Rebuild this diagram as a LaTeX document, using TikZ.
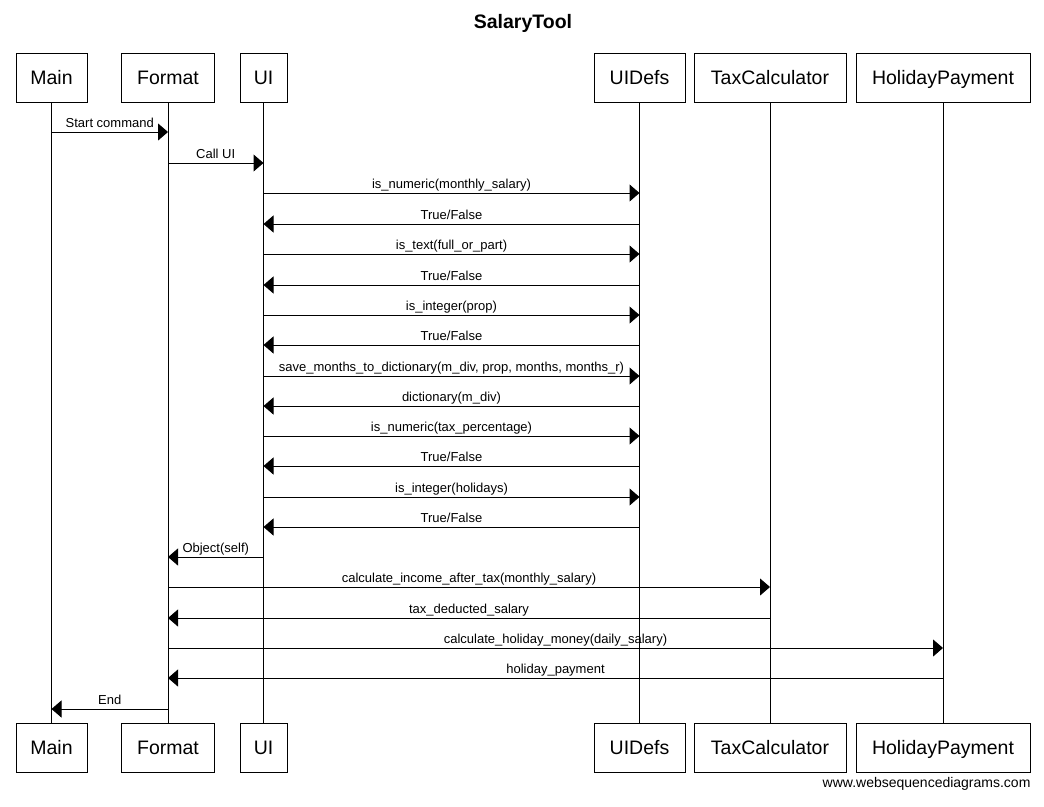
\documentclass[tikz,border=0pt]{standalone}
\usepackage{fontspec}
\setmainfont{Liberation Sans}
\usepackage{tikz}
\usetikzlibrary{arrows.meta,positioning}
\tikzstyle{actor} = [draw, line width=1pt, minimum height=49pt, inner xsep=0pt, inner ysep=0pt, text height=14pt, text depth=0pt, font=\fontsize{19.5}{20}\selectfont]
\tikzstyle{life} = [draw, line width=1pt]
\tikzstyle{msg} = [draw, line width=1pt, -{Triangle[length=10pt,width=17pt]}]
\tikzstyle{lbl} = [anchor=base, yshift=4.5pt, inner sep=0pt, font=\fontsize{13}{13}\selectfont]

\begin{document}
\begin{tikzpicture}[x=1pt, y=-1pt]
      \useasboundingbox (0,0) rectangle (1044,806);

      \node (title) at (523, 28) [anchor=base, font=\fontsize{19.5}{20}\selectfont\bfseries] {SalaryTool};

      % participants, top row
      \node[actor, minimum width=71pt] (main) at (51.5, 77.7) {Main};
      \node[actor, minimum width=93pt] (format) at (168, 77.7) {Format};
      \node[actor, minimum width=47pt] (ui) at (263.5, 77.7) {UI};
      \node[actor, minimum width=91pt] (uidefs) at (639.5, 77.7) {UIDefs};
      \node[actor, minimum width=152pt] (tax) at (770, 77.7) {TaxCalculator};
      \node[actor, minimum width=174pt] (holiday) at (943, 77.7) {HolidayPayment};

      % participants, bottom row
      \node[actor, minimum width=71pt, below=620pt of main] (mainB) {Main};
      \node[actor, minimum width=93pt, below=620pt of format] (formatB) {Format};
      \node[actor, minimum width=47pt, below=620pt of ui] (uiB) {UI};
      \node[actor, minimum width=91pt, below=620pt of uidefs] (uidefsB) {UIDefs};
      \node[actor, minimum width=152pt, below=620pt of tax] (taxB) {TaxCalculator};
      \node[actor, minimum width=174pt, below=620pt of holiday] (holidayB) {HolidayPayment};

      % lifelines
      \draw[life] (main) -- (mainB);
      \draw[life] (format) -- (formatB);
      \draw[life] (ui) -- (uiB);
      \draw[life] (uidefs) -- (uidefsB);
      \draw[life] (tax) -- (taxB);
      \draw[life] (holiday) -- (holidayB);

      % messages
      \draw[msg] (main |- 0,132) -- node[lbl] {Start command} (format |- 0,132);
      \draw[msg] (format |- 0,163) -- node[lbl] {Call UI} (ui |- 0,163);
      \draw[msg] (ui |- 0,193) -- node[lbl] {is\_numeric(monthly\_salary)} (uidefs |- 0,193);
      \draw[msg] (uidefs |- 0,224) -- node[lbl] {True/False} (ui |- 0,224);
      \draw[msg] (ui |- 0,254) -- node[lbl] {is\_text(full\_or\_part)} (uidefs |- 0,254);
      \draw[msg] (uidefs |- 0,285) -- node[lbl] {True/False} (ui |- 0,285);
      \draw[msg] (ui |- 0,315) -- node[lbl] {is\_integer(prop)} (uidefs |- 0,315);
      \draw[msg] (uidefs |- 0,345) -- node[lbl] {True/False} (ui |- 0,345);
      \draw[msg] (ui |- 0,376) -- node[lbl] {save\_months\_to\_dictionary(m\_div, prop, months, months\_r)} (uidefs |- 0,376);
      \draw[msg] (uidefs |- 0,406) -- node[lbl] {dictionary(m\_div)} (ui |- 0,406);
      \draw[msg] (ui |- 0,436) -- node[lbl] {is\_numeric(tax\_percentage)} (uidefs |- 0,436);
      \draw[msg] (uidefs |- 0,466) -- node[lbl] {True/False} (ui |- 0,466);
      \draw[msg] (ui |- 0,497) -- node[lbl] {is\_integer(holidays)} (uidefs |- 0,497);
      \draw[msg] (uidefs |- 0,527) -- node[lbl] {True/False} (ui |- 0,527);
      \draw[msg] (ui |- 0,557) -- node[lbl] {Object(self)} (format |- 0,557);
      \draw[msg] (format |- 0,587) -- node[lbl] {calculate\_income\_after\_tax(monthly\_salary)} (tax |- 0,587);
      \draw[msg] (tax |- 0,618) -- node[lbl] {tax\_deducted\_salary} (format |- 0,618);
      \draw[msg] (format |- 0,648) -- node[lbl] {calculate\_holiday\_money(daily\_salary)} (holiday |- 0,648);
      \draw[msg] (holiday |- 0,678) -- node[lbl] {holiday\_payment} (format |- 0,678);
      \draw[msg] (format |- 0,709) -- node[lbl] {End} (main |- 0,709);

      \node (footer) at (1034, 787) [anchor=base east, font=\fontsize{14}{14}\selectfont] {www.websequencediagrams.com};
\end{tikzpicture}
\end{document}
